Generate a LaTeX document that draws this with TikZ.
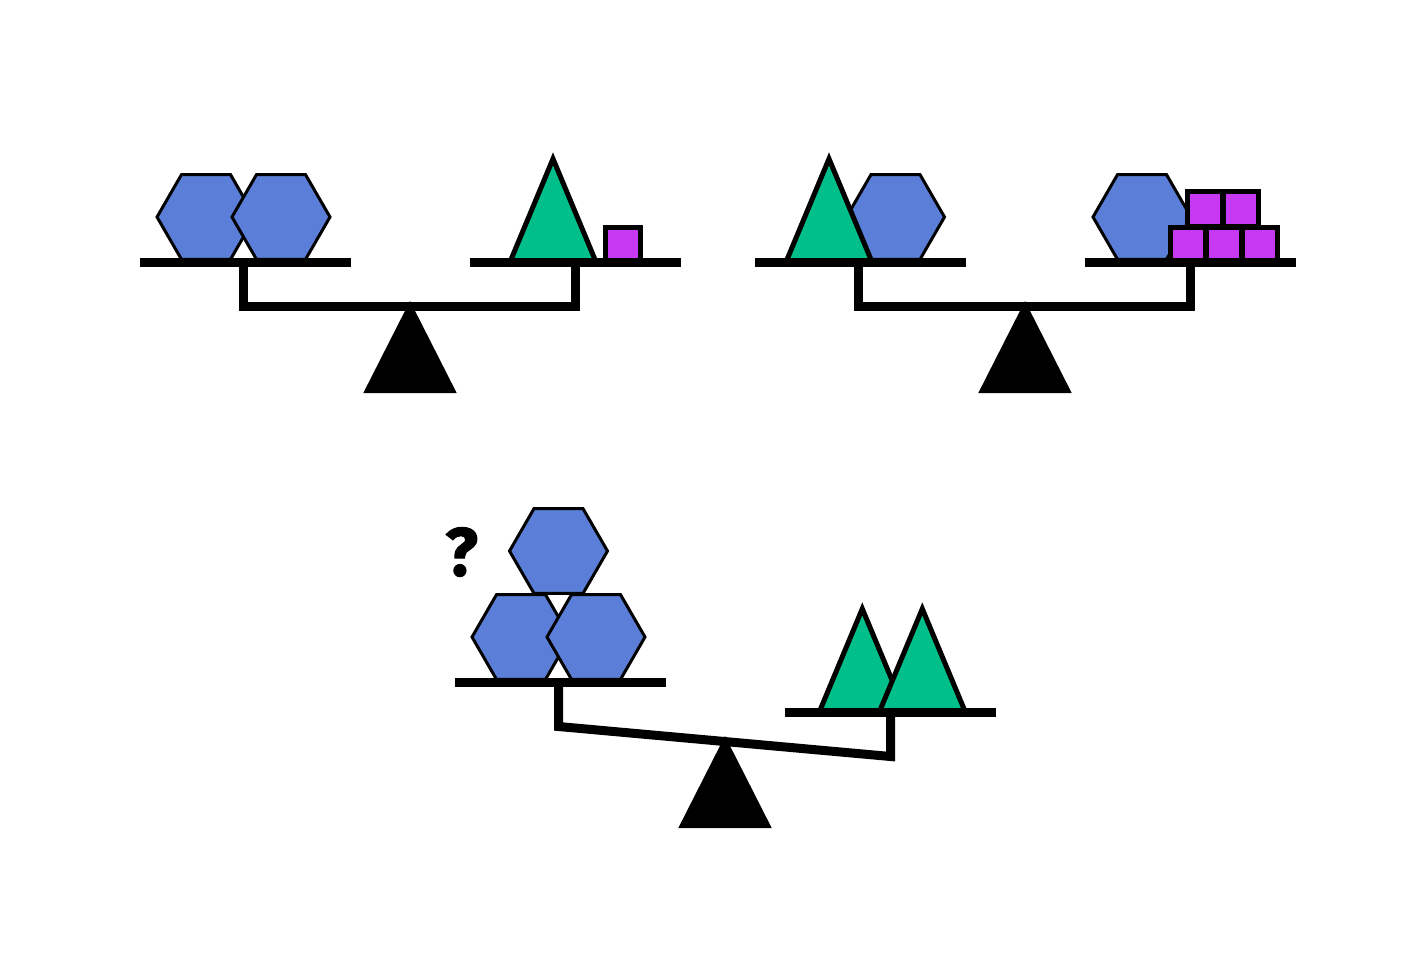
\documentclass[tikz,border=0pt]{standalone}
\usepackage{fontspec}
\setmainfont{Liberation Sans}
\newfontfamily\markfont[BoldFeatures={FakeBold=1.5}]{Fira Sans}
\definecolor{hexblue}{RGB}{91,127,216}
\definecolor{trigreen}{RGB}{0,191,138}
\definecolor{boxpurple}{RGB}{199,56,242}
\tikzset{
  hexshape/.style={draw=black,fill=hexblue,line width=3pt,miter limit=10},
  trishape/.style={draw=black,fill=trigreen,line width=5pt,miter limit=10},
  boxshape/.style={draw=black,fill=boxpurple,line width=5pt},
  panbar/.style={draw=black,line width=9pt},
  beambar/.style={draw=black,line width=9pt,miter limit=10},
  fulcrum/.style={fill=black},
}
\newcommand{\myhex}[2]{\draw[hexshape] (#1-49,#2) -- (#1-24.5,#2-42.4) -- (#1+24.5,#2-42.4) -- (#1+49,#2) -- (#1+24.5,#2+42.4) -- (#1-24.5,#2+42.4) -- cycle;}
\newcommand{\mytri}[2]{\draw[trishape] (#1,#2-103.2) -- (#1+43,#2) -- (#1-43,#2) -- cycle;}
\newcommand{\mybox}[2]{\draw[boxshape] (#1-17.5,#2-17.5) rectangle (#1+17.5,#2+17.5);}
\newcommand{\mypan}[2]{\draw[panbar] (#1,#2) -- (#1+211,#2);}
\newcommand{\myfulcrum}[2]{\fill[fulcrum] (#1,#2) -- (#1+46.7,#2+92) -- (#1-46.7,#2+92) -- cycle;}
\begin{document}
\begin{tikzpicture}[x=1pt,y=-1pt]
\useasboundingbox (0,0) rectangle (1428,978);
% top-left balance
\myhex{206}{217}
\myhex{281}{217}
\mytri{553}{262}
\mybox{623}{245}
\mypan{140}{262.5}
\mypan{470}{262.5}
\draw[beambar] (243.5,262.5) -- (243.5,306.5) -- (575.5,306.5) -- (575.5,262.5);
\myfulcrum{410}{301}
% top-right balance
\myhex{895.5}{217}
\mytri{829}{262}
\myhex{1142}{217}
\mybox{1188}{245}
\mybox{1224}{245}
\mybox{1260}{245}
\mybox{1205}{209}
\mybox{1241}{209}
\mypan{755}{262.5}
\mypan{1085}{262.5}
\draw[beambar] (858.5,262.5) -- (858.5,306.5) -- (1190.5,306.5) -- (1190.5,262.5);
\myfulcrum{1025}{301}
% bottom balance
\myhex{558.5}{551}
\myhex{521}{637}
\myhex{596}{637}
\mytri{862.3}{712}
\mytri{922.3}{712}
\mypan{455}{682.5}
\mypan{785}{712.5}
\draw[beambar] (558.5,682.5) -- (558.5,726.5) -- (890.5,756.5) -- (890.5,712.5);
\myfulcrum{725}{736}
\node[anchor=center,inner sep=0pt,font=\markfont\bfseries\fontsize{68}{68}\selectfont] (question) at (461.5,552) {?};
\end{tikzpicture}
\end{document}
